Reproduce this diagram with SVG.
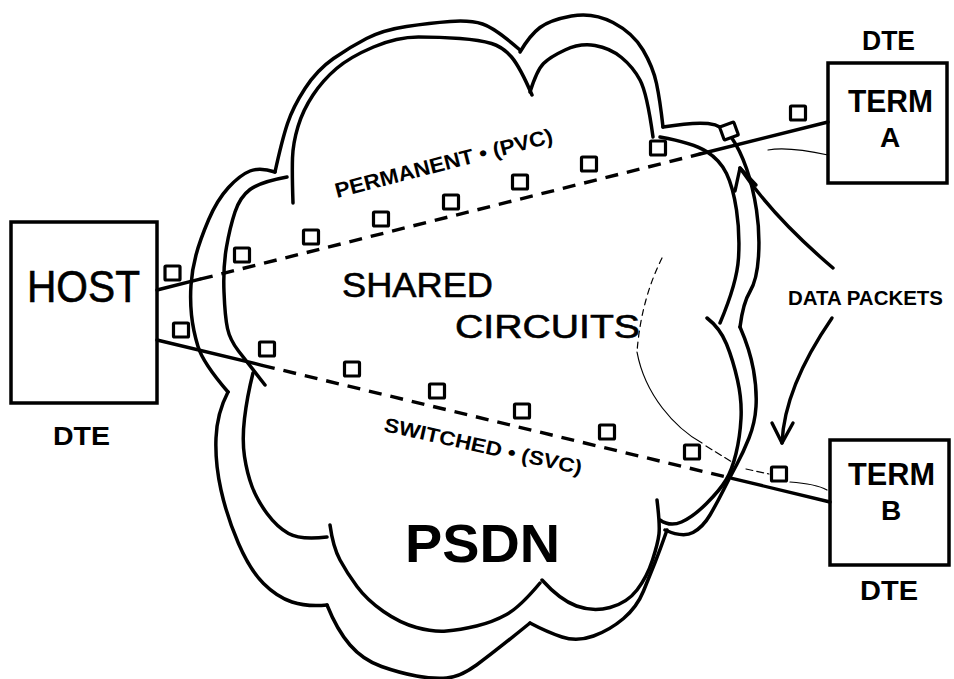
<svg xmlns="http://www.w3.org/2000/svg" width="954" height="679" viewBox="0 0 954 679">
<style>
.ln{fill:none;stroke:#000;stroke-width:3.4;stroke-linecap:round;stroke-linejoin:round}
.cl{fill:none;stroke:#000;stroke-width:3.5;stroke-linecap:round;stroke-linejoin:round}
.box{fill:#fff;stroke:#000;stroke-width:3.5}
.dash{stroke-dasharray:13 9;stroke-linecap:butt}
.pk{fill:#fff;stroke:#000;stroke-width:3.2}
.fa{fill:none;stroke:#000;stroke-width:1.2;stroke-linecap:round}
.t{font-family:"Liberation Sans",Arial,sans-serif;fill:#000}
.b{font-weight:bold}
</style>
<rect width="954" height="679" fill="#fff"/>
<g id="psdn-cloud">
<g id="outer-cloud">
<path class="cl" d="M275,172 Q282,140 287.5,123.5 Q293,107 305,88.5 Q317,70 333.5,58.5 Q350,47 366.5,38.5 Q383,30 406.5,26.5 Q430,23 450,21.5 Q470,20 482.5,24 Q495,28 520,50"/>
<path class="cl" d="M520,52 Q530,35 540,27.5 Q550,20 571.5,16 Q593,12 613,22.5 Q633,33 643,50 Q653,67 656.5,83.5 Q660,100 663,127"/>
<path class="cl" d="M663,127 Q693,122 708,123.5 Q723,125 731.5,137.5 Q740,150 746.5,168.5 Q753,187 756.5,210 Q760,233 758.5,256.5 Q757,280 750,291.5 Q743,303 740,327"/>
<path class="cl" d="M740,327 Q750,350 753.5,370 Q757,390 756,406.5 Q755,423 749,438 Q743,453 736.5,465 Q730,477 723.5,490 Q717,503 710,515 Q703,527 693,532.5 Q683,538 665,530"/>
<path class="cl" d="M667,530 Q660,550 655,562.5 Q650,575 643.5,591 Q637,607 623.5,618.5 Q610,630 593.5,636 Q577,642 562,637 Q547,632 530,623"/>
<path class="cl" d="M530,623 Q493,653 476.5,665 Q460,677 446.5,678 Q433,679 416.5,676 Q400,673 381.5,666.5 Q363,660 350,645 Q337,630 327,605"/>
<path class="cl" d="M327,605 Q307,607 292,602 Q277,597 263.5,583.5 Q250,570 238.5,543.5 Q227,517 221,490 Q215,463 216,438 Q217,413 228,392"/>
<path class="cl" d="M228,392 Q203,363 198,346.5 Q193,330 191.5,315 Q190,300 191,285 Q192,270 196,255 Q200,240 208.5,220 Q217,200 228.5,187.5 Q240,175 250,171 Q260,167 275,172"/>
</g>
<g id="inner-cloud">
<path class="cl" d="M293,203 Q292,173 292.5,158 Q293,143 298,126.5 Q303,110 313,95 Q323,80 336.5,68.5 Q350,57 373.5,47 Q397,37 418.5,37 Q440,37 460,38.5 Q480,40 491.5,43.5 Q503,47 511.5,57 Q520,67 532,95"/>
<path class="cl" d="M530,92 Q537,70 543.5,63.5 Q550,57 565,50 Q580,43 595,45.5 Q610,48 621.5,57.5 Q633,67 640,80 Q647,93 653,137"/>
<path class="cl" d="M660,137 Q693,143 706.5,151.5 Q720,160 726.5,173.5 Q733,187 736.5,210 Q740,233 738.5,258 Q737,283 720,323"/>
<path class="cl" d="M707,318 Q720,328 726.5,344 Q733,360 737.5,380 Q742,400 741,418.5 Q740,437 736,453.5 Q732,470 726,480 Q720,490 706.5,503.5 Q693,517 681.5,522 Q670,527 660,520"/>
<path class="cl" d="M657,500 Q660,525 659,534 Q658,543 652.5,560 Q647,577 637,590 Q627,603 610,607.5 Q593,612 576.5,606 Q560,600 542,580"/>
<path class="cl" d="M540,583 Q520,607 506.5,614.5 Q493,622 476.5,626 Q460,630 446.5,631 Q433,632 416.5,627.5 Q400,623 383.5,611.5 Q367,600 357,586.5 Q347,573 340,560 Q333,547 330,525"/>
<path class="cl" d="M327,537 Q300,540 288.5,533.5 Q277,527 267,513.5 Q257,500 252,486.5 Q247,473 244.5,456.5 Q242,440 244.5,418.5 Q247,397 253,373"/>
<path class="cl" d="M287,177 Q260,182 250,189.5 Q240,197 235,212 Q230,227 226.5,247 Q223,267 224,292 Q225,317 227.5,328.5 Q230,340 238.5,351 Q247,362 265,385"/>
</g>
<text class="t" x="342" y="297" font-size="35" textLength="151" lengthAdjust="spacingAndGlyphs" stroke="#000" stroke-width="0.6">SHARED</text>
<text class="t" x="455" y="338" font-size="34" textLength="185" lengthAdjust="spacingAndGlyphs" stroke="#000" stroke-width="0.6">CIRCUITS</text>
<text class="t b" x="405" y="562" font-size="54" textLength="155" lengthAdjust="spacingAndGlyphs">PSDN</text>
</g>
<g id="host">
<rect class="box" x="11" y="222" width="146" height="181"/>
<text class="t" x="27" y="302" font-size="45" textLength="113" lengthAdjust="spacingAndGlyphs" stroke="#000" stroke-width="0.6">HOST</text>
<text class="t b" x="53" y="445" font-size="25" textLength="57" lengthAdjust="spacingAndGlyphs">DTE</text>
</g>
<g id="term-a">
<rect class="box" x="828" y="63" width="119" height="120"/>
<text class="t b" x="848" y="112" font-size="32" textLength="85" lengthAdjust="spacingAndGlyphs">TERM</text>
<text class="t b" x="890" y="147" font-size="28" text-anchor="middle">A</text>
<text class="t b" x="862" y="50" font-size="27" textLength="53" lengthAdjust="spacingAndGlyphs">DTE</text>
</g>
<g id="term-b">
<rect class="box" x="830" y="440" width="119" height="125"/>
<text class="t b" x="848" y="485" font-size="31" textLength="87" lengthAdjust="spacingAndGlyphs">TERM</text>
<text class="t b" x="891" y="520" font-size="28" text-anchor="middle">B</text>
<text class="t b" x="860" y="600" font-size="27" textLength="58" lengthAdjust="spacingAndGlyphs">DTE</text>
</g>
<g id="connectors">
<g id="pvc">
<path class="ln" d="M157,290 L200,279.2"/>
<path class="ln dash" d="M200,279.2 L700,154"/>
<path class="ln" d="M700,154 L828,122"/>
</g>
<g id="svc">
<path class="ln" d="M157,340 L262,365.3"/>
<path class="ln dash" d="M262,365.3 L732,478.4"/>
<path class="ln" d="M732,478.4 L830,502"/>
</g>
<g id="packets">
<rect class="pk" x="165" y="266" width="15" height="14" rx="1"/>
<rect class="pk" x="234.5" y="248" width="15" height="14" rx="1"/>
<rect class="pk" x="303.5" y="230" width="15" height="14" rx="1"/>
<rect class="pk" x="373.5" y="212" width="15" height="14" rx="1"/>
<rect class="pk" x="443.5" y="195" width="15" height="14" rx="1"/>
<rect class="pk" x="512.5" y="175" width="15" height="14" rx="1"/>
<rect class="pk" x="581.5" y="157" width="15" height="14" rx="1"/>
<rect class="pk" x="650.5" y="141" width="15" height="14" rx="1"/>
<rect class="pk" x="721.5" y="124" width="15" height="14" rx="1" transform="rotate(-20 729 131)"/>
<rect class="pk" x="790.5" y="106" width="15" height="14" rx="1"/>
<rect class="pk" x="173.5" y="323" width="15" height="14" rx="1"/>
<rect class="pk" x="259.5" y="342" width="15" height="14" rx="1"/>
<rect class="pk" x="344.5" y="362" width="15" height="14" rx="1"/>
<rect class="pk" x="429.5" y="384" width="15" height="14" rx="1"/>
<rect class="pk" x="514.5" y="404" width="15" height="14" rx="1"/>
<rect class="pk" x="599.5" y="425" width="15" height="14" rx="1"/>
<rect class="pk" x="684.5" y="445" width="15" height="14" rx="1"/>
<rect class="pk" x="771.5" y="467" width="15" height="14" rx="1"/>
</g>
<g id="arrows">
<path class="ln" d="M833,268 C800,240 765,205 740,168"/>
<path class="ln" d="M735,191 L740,168 L756,185"/>
<path class="ln" d="M832,318 C810,350 784,395 782,443"/>
<path class="ln" d="M772,423 L782,443 L793,423"/>
</g>
<g id="faint">
<path class="fa" d="M768,150 C785,147 805,150 828,155"/>
<path class="fa" stroke-dasharray="6 5" d="M662,258 Q641,300 637,352"/>
<path class="fa" d="M637,352 C645,395 675,428 702,443"/>
<path class="fa" stroke-dasharray="7 4" d="M706,446 L732,462"/>
<path class="fa" stroke-dasharray="7 4" d="M746,469 L769,474"/>
<path class="fa" d="M790,482 C805,483 818,485 827,490"/>
</g>
</g>
<g id="labels">
<text class="t b" font-size="21" textLength="224" lengthAdjust="spacingAndGlyphs" transform="translate(337,198) rotate(-14.4)">PERMANENT • (PVC)</text>
<text class="t b" font-size="20" textLength="202" lengthAdjust="spacingAndGlyphs" transform="translate(383,431) rotate(12.5)">SWITCHED • (SVC)</text>
<text class="t b" x="788" y="305" font-size="20.5" textLength="155" lengthAdjust="spacingAndGlyphs">DATA PACKETS</text>
</g>
</svg>
